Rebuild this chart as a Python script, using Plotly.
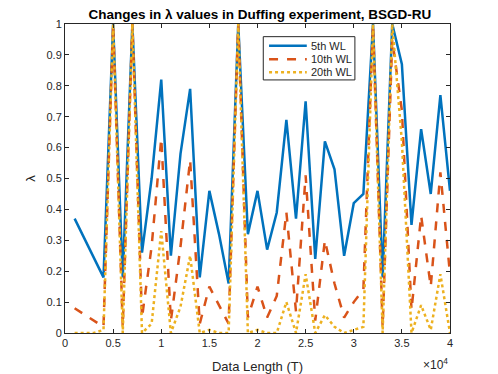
import plotly.graph_objects as go

# data length (T)
data_len = [1000 * k for k in range(1, 41)]

wl5 = [0.37, 0.305, 0.244, 0.18, 1.0, 0.18, 1.0, 0.26, 0.5, 0.82,
       0.25, 0.58, 0.79, 0.18, 0.46, 0.32, 0.16, 1.0, 0.32, 0.46,
       0.27, 0.39, 0.69, 0.37, 0.75, 0.24, 0.62, 0.53, 0.25, 0.42,
       0.45, 1.0, 0.18, 1.0, 0.87, 0.35, 0.66, 0.45, 0.77, 0.46]

wl10 = [0.08, 0.06, 0.04, 0.02, 1.0, 0.02, 1.0, 0.05, 0.28, 0.63,
        0.04, 0.28, 0.56, 0.03, 0.15, 0.09, 0.03, 1.0, 0.05, 0.15,
        0.05, 0.12, 0.39, 0.07, 0.51, 0.04, 0.30, 0.16, 0.05, 0.10,
        0.14, 1.0, 0.02, 0.95, 0.72, 0.075, 0.38, 0.15, 0.52, 0.19]

wl20 = [0.0, 0.0, 0.0, 0.01, 1.0, 0.0, 1.0, 0.0, 0.03, 0.33,
        0.0, 0.085, 0.25, 0.0, 0.01, 0.0, 0.0, 1.0, 0.0, 0.01,
        0.0, 0.0, 0.1, 0.0, 0.19, 0.0, 0.058, 0.02, 0.0, 0.01,
        0.02, 1.0, 0.0, 1.0, 0.62, 0.0, 0.09, 0.01, 0.19, 0.0]

x_ticks = [0, 5000, 10000, 15000, 20000, 25000, 30000, 35000, 40000]
x_ticktext = ["0", "0.5", "1", "1.5", "2", "2.5", "3", "3.5", "4"]
y_ticks = [0, 0.1, 0.2, 0.3, 0.4, 0.5, 0.6, 0.7, 0.8, 0.9, 1]
y_ticktext = ["0", "0.1", "0.2", "0.3", "0.4", "0.5", "0.6", "0.7", "0.8", "0.9", "1"]

series = [
    ("5th WL", wl5, "#0072BD", "solid"),
    ("10th WL", wl10, "#D95319", "dash"),
    ("20th WL", wl20, "#EDB120", "dot"),
]

fig = go.Figure()
for name, vals, color, dash in series:
    fig.add_trace(go.Scatter(x=data_len, y=vals, mode="lines", name=name,
                             line=dict(color=color, width=2.5, dash=dash)))

axis_style = dict(showline=True, linecolor="#262626", linewidth=1, mirror="ticks",
                  ticks="inside", ticklen=4, tickcolor="#262626", showgrid=False,
                  zeroline=False, automargin=False, tickfont=dict(size=11, color="#262626"))

fig.update_xaxes(range=[0, 40000], tickvals=x_ticks, ticktext=x_ticktext,
                 title=dict(text="Data Length (T)", font=dict(size=13, color="#262626"), standoff=15),
                 **axis_style)
fig.update_yaxes(range=[0, 1], tickvals=y_ticks, ticktext=y_ticktext,
                 title=dict(text="λ", font=dict(size=13, color="#262626"), standoff=7),
                 **axis_style)

# exponent label under the right end of the x axis
fig.add_annotation(xref="paper", yref="paper", x=1.0, y=-0.100, xanchor="right", yanchor="middle",
                   text="×10<sup>4</sup>", showarrow=False, font=dict(size=12, color="#262626"))

# MATLAB-style compact legend box (plotly's own legend rows are too tall)
leg_rows = [0.930, 0.886, 0.844]
fig.add_shape(type="rect", xref="paper", yref="paper", x0=0.515, x1=0.753, y0=0.819, y1=0.959,
              line=dict(color="#262626", width=1), fillcolor="white", layer="above")
for (name, vals, color, dash), ry in zip(series, leg_rows):
    fig.add_shape(type="line", xref="paper", yref="paper", x0=0.530, x1=0.628, y0=ry, y1=ry,
                  line=dict(color=color, width=2.5, dash=dash), layer="above")
    fig.add_annotation(xref="paper", yref="paper", x=0.633, y=ry, xanchor="left", yanchor="middle",
                       text=name, showarrow=False, font=dict(size=11, color="#262626"))

# page body has an 8px margin, so the figure is sized/offset to compensate
fig.update_layout(
    width=490, height=366,
    paper_bgcolor="white", plot_bgcolor="white",
    font=dict(family="Liberation Sans, Arial, sans-serif", color="#262626"),
    title=dict(text="<b>Changes in λ values in Duffing experiment, BSGD-RU</b>",
               x=0.514, xanchor="center", y=0.983, yanchor="middle",
               font=dict(size=13.5, color="black")),
    margin=dict(l=57, r=48, t=16, b=41),
    showlegend=False,
)

fig.write_html("out.html")
